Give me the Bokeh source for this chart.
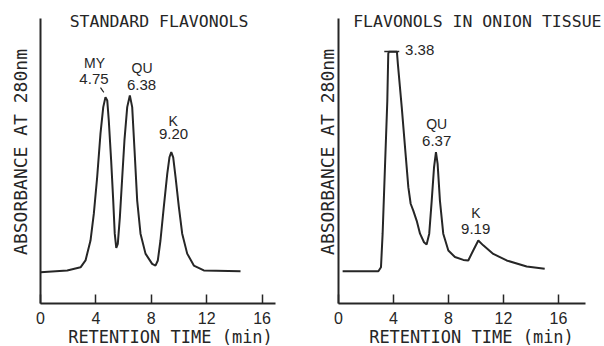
from bokeh.plotting import figure
from bokeh.models import Range1d, FixedTicker, Label
from bokeh.layouts import row
from bokeh.embed import file_html
from bokeh.resources import INLINE
from bokeh.core.properties import value

# ---------------- data ----------------
# Standard flavonols chromatogram (time in min, relative absorbance 0-100)
std_time = [0.0, 1.93, 2.89, 3.25, 3.61, 3.85, 4.09, 4.33, 4.53, 4.69,
            4.82, 4.93, 5.1, 5.25, 5.36, 5.47, 5.58, 5.73, 5.9, 6.06,
            6.26, 6.45, 6.62, 6.79, 6.98, 7.22, 7.58, 8.06, 8.3, 8.47,
            8.66, 8.9, 9.15, 9.31, 9.44, 9.58, 9.75, 9.99, 10.23, 10.59,
            11.07, 11.79, 14.44]
std_abs = [11.0, 11.6, 12.7, 15.1, 22.1, 31.5, 44.3, 59.6, 68.9, 72.4,
           71.2, 64.2, 50.2, 36.1, 24.5, 19.5, 20.9, 30.3, 44.3, 57.2,
           68.9, 73.0, 68.9, 53.7, 36.1, 24.5, 17.5, 13.9, 13.3, 15.1,
           22.1, 33.8, 45.5, 51.3, 53.1, 51.3, 44.3, 33.8, 24.5, 17.5,
           13.3, 11.6, 11.3]

# Onion tissue chromatogram
onion_time = [0.3, 2.9, 3.09, 3.21, 3.38, 3.55, 3.62, 3.66, 4.25, 4.32,
              4.6, 4.84, 5.08, 5.25, 5.44, 5.69, 5.93, 6.22, 6.41, 6.6,
              6.78, 6.95, 7.09, 7.21, 7.38, 7.62, 7.99, 8.47, 9.08, 9.44,
              9.8, 10.17, 10.53, 11.26, 12.23, 13.69, 15.0]
onion_abs = [11.3, 11.3, 12.7, 24.5, 47.8, 71.0, 87.6, 88.3, 88.3, 84.0,
             68.9, 54.8, 40.8, 35.0, 32.6, 29.0, 24.5, 21.5, 20.7, 24.5,
             36.0, 47.8, 53.1, 49.0, 36.0, 24.5, 18.6, 16.3, 15.3, 15.1,
             18.6, 22.1, 20.4, 17.4, 15.1, 13.0, 12.2]

x_ticks = [0, 4, 8, 12, 16]
std_axis_max = 17
onion_axis_max = 18
abs_axis_max = 100

# peak annotations (name, retention time text)
std_names = ["MY", "QU", "K"]
std_rt = ["4.75", "6.38", "9.20"]
onion_names = ["QU", "K"]
onion_rt = ["6.37", "9.19"]
onion_first_rt = "3.38"

# annotation anchor positions (data units)
std_name_x = [3.9, 7.33, 9.57]
std_name_y = [84.4, 82.6, 64.2]
std_rt_x = [3.86, 7.29, 9.6]
std_rt_y = [78.6, 76.5, 59.4]
onion_name_x = [7.14, 9.99]
onion_name_y = [62.8, 31.8]
onion_rt_x = [7.14, 9.98]
onion_rt_y = [56.9, 26.0]
my_leader_x = [4.33, 4.57]
my_leader_y = [75.7, 74.1]
first_bar_x = [3.33, 4.42]
first_bar_y = [88.4, 88.4]

INK = "#262626"
MONO = "DejaVu Sans Mono"
SANS = "Liberation Sans"


def make_panel(b_left, f_width, x_end, axis_max, title, title_x, ylab_standoff):
    p = figure(frame_width=f_width, frame_height=303, output_backend="svg",
               toolbar_location=None,
               x_range=Range1d(0, x_end), y_range=Range1d(0, 106.3),
               min_border_left=b_left, min_border_right=0,
               min_border_top=0, min_border_bottom=43)
    p.outline_line_color = None
    p.xgrid.visible = False
    p.ygrid.visible = False
    p.background_fill_color = "white"
    p.border_fill_color = "white"

    ax = p.xaxis[0]
    ax.bounds = (0, axis_max)
    ax.ticker = FixedTicker(ticks=x_ticks)
    ax.axis_line_width = 2
    ax.axis_line_color = INK
    ax.major_tick_in = 9
    ax.major_tick_out = 0
    ax.major_tick_line_width = 1.5
    ax.major_tick_line_color = INK
    ax.minor_tick_line_color = None
    ax.major_label_text_font = SANS
    ax.major_label_text_font_size = "16px"
    ax.major_label_text_color = INK
    ax.major_label_standoff = 8
    ax.axis_label = "RETENTION TIME (min)"
    ax.axis_label_text_font = MONO
    ax.axis_label_text_font_style = "normal"
    ax.axis_label_text_font_size = "17px"
    ax.axis_label_text_color = INK
    ax.axis_label_standoff = 0

    ay = p.yaxis[0]
    ay.bounds = (0, abs_axis_max)
    ay.ticker = FixedTicker(ticks=[])
    ay.axis_line_width = 2
    ay.axis_line_color = INK
    ay.major_tick_in = 0
    ay.major_tick_out = 0
    ay.minor_tick_line_color = None
    ay.major_label_text_font_size = "0px"
    ay.axis_label = "ABSORBANCE AT 280nm"
    ay.axis_label_text_font = MONO
    ay.axis_label_text_font_style = "normal"
    ay.axis_label_text_font_size = "18px"
    ay.axis_label_text_color = INK
    ay.axis_label_standoff = ylab_standoff

    p.add_layout(Label(x=title_x, y=98.8, text=title, text_align="center",
                       text_baseline="middle", text_font=MONO,
                       text_font_size="16.5px", text_color=INK))
    return p


p1 = make_panel(40, 260, 18.77, std_axis_max, "STANDARD FLAVONOLS", 8.56, 10)
p1.line(std_time, std_abs, line_width=2, line_color=INK)
p1.line(my_leader_x, my_leader_y, line_width=1.2, line_color=INK)
p1.text(std_name_x, std_name_y, text=std_names, text_align="center", text_baseline="middle",
        text_font=value(SANS), text_font_size="14px", text_color=INK)
p1.text(std_rt_x, std_rt_y, text=std_rt, text_align="center", text_baseline="middle",
        text_font=value(SANS), text_font_size="15px", text_color=INK)

p2 = make_panel(38, 266, 19.35, onion_axis_max, "FLAVONOLS IN ONION TISSUE", 10.1, 1)
p2.line(onion_time, onion_abs, line_width=2, line_color=INK)
p2.line(first_bar_x, first_bar_y, line_width=1.5, line_color=INK)
p2.text([4.84], [88.8], text=[onion_first_rt], text_align="left", text_baseline="middle",
        text_font=value(SANS), text_font_size="15px", text_color=INK)
p2.text(onion_name_x, onion_name_y, text=onion_names, text_align="center", text_baseline="middle",
        text_font=value(SANS), text_font_size="14px", text_color=INK)
p2.text(onion_rt_x, onion_rt_y, text=onion_rt, text_align="center", text_baseline="middle",
        text_font=value(SANS), text_font_size="15px", text_color=INK)

layout = row(p1, p2)
open("out.html", "w").write(file_html(layout, INLINE))
